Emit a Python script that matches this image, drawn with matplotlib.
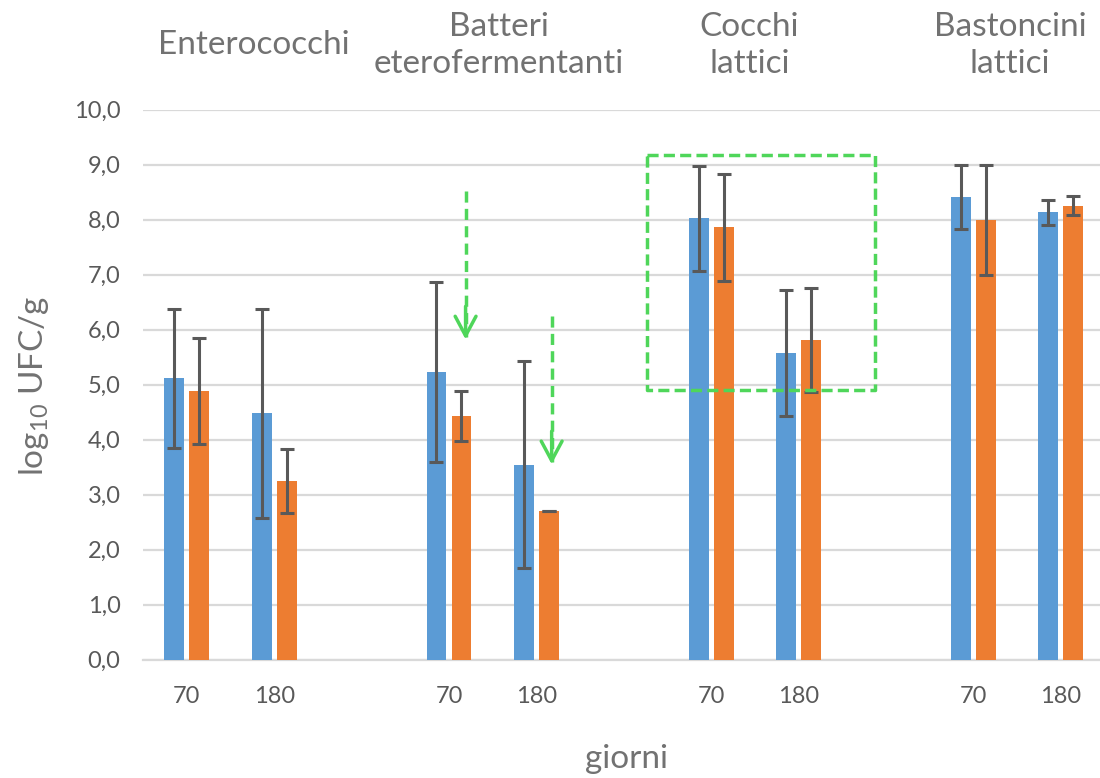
import numpy as np
import matplotlib
matplotlib.use("Agg")
from matplotlib import pyplot as plt

# data
gruppi = ["Enterococchi", "Batteri\neterofermentanti", "Cocchi\nlattici", "Bastoncini\nlattici"]
giorni = ["70", "180"]
blu = [5.11, 4.48, 5.23, 3.54, 8.02, 5.57, 8.41, 8.13]
blu_err = [1.27, 1.90, 1.63, 1.88, 0.96, 1.14, 0.59, 0.23]
arancio = [4.88, 3.25, 4.43, 2.70, 7.86, 5.81, 8.00, 8.25]
arancio_err = [0.96, 0.58, 0.46, 0.0, 0.97, 0.95, 1.00, 0.17]
titoli_x = [0.77, 3.57, 6.44, 9.42]

plt.rcParams["font.family"] = ["Lato", "DejaVu Sans"]
plt.rcParams["mathtext.fontset"] = "custom"
plt.rcParams["mathtext.rm"] = "Lato"

# posizioni: 2 giorni per gruppo, uno spazio tra i gruppi
pos = np.array([3 * g + d for g in range(len(gruppi)) for d in range(len(giorni))])
w = 0.228
off = 0.143

fig = plt.figure(figsize=(11, 7.78), dpi=100)
ax = fig.add_axes([142.7 / 1100, 118.5 / 778, 1 - 142.7 / 1100, 550 / 778])

err_kw = dict(ecolor="#595959", elinewidth=2.2, capsize=5, capthick=2.2)
ax.bar(pos - off, blu, w, color="#5b9bd5", yerr=blu_err, error_kw=err_kw, zorder=3)
ax.bar(pos + off, arancio, w, color="#ed7d31", yerr=arancio_err, error_kw=err_kw, zorder=3)

ax.set_xlim(-0.505, 10.45)
ax.set_ylim(0, 10)
ax.set_yticks(np.arange(0, 11, 1))
ax.set_yticklabels([f"{v:.1f}".replace(".", ",") for v in range(11)])
ax.set_xticks(pos)
ax.set_xticklabels(giorni * len(gruppi))
ax.tick_params(axis="both", length=0, labelsize=17, labelcolor="#595959")
ax.tick_params(axis="x", pad=19)
ax.tick_params(axis="y", pad=16)
ax.grid(axis="y", color="#d9d9d9", linewidth=1.6, zorder=0)
for s in ["top", "right", "left"]:
    ax.spines[s].set_visible(False)
ax.spines["bottom"].set_color("#d9d9d9")
ax.spines["bottom"].set_linewidth(1.6)

# titoli dei gruppi
for x, t in zip(titoli_x, gruppi):
    ax.text(x, 1.117, t, transform=ax.get_xaxis_transform(), ha="center", va="center",
            fontsize=24, color="#727272", linespacing=1.3, clip_on=False)

fig.text(627 / 1100, 10 / 778, "giorni", ha="center", va="baseline", fontsize=24, color="#727272")
fig.text(34 / 1100, 1 - 386 / 778, r"log$_{\mathregular{10}}$ UFC/g", rotation=90,
         ha="center", va="center", fontsize=24, color="#727272")

# annotazioni verdi
verde = "#4fd65a"
ax.plot([5.27, 7.87, 7.87, 5.27, 5.27], [9.18, 9.18, 4.90, 4.90, 9.18], color=verde,
        linewidth=2.5, linestyle=(0, (3.2, 1.5)), zorder=5)
for x, y0, y1 in [(3.19, 8.51, 5.82), (4.175, 6.24, 3.55)]:
    ax.plot([x, x], [y0, y1 + 0.05], color=verde, linewidth=2.5, linestyle=(0, (3.2, 1.8)), zorder=5)
    ax.annotate("", xy=(x, y1), xytext=(x, y1 + 0.6),
                arrowprops=dict(arrowstyle="->,head_length=1.4,head_width=0.75",
                                color=verde, lw=2.5, shrinkA=0, shrinkB=0))

fig.savefig("out.png", dpi=100)
